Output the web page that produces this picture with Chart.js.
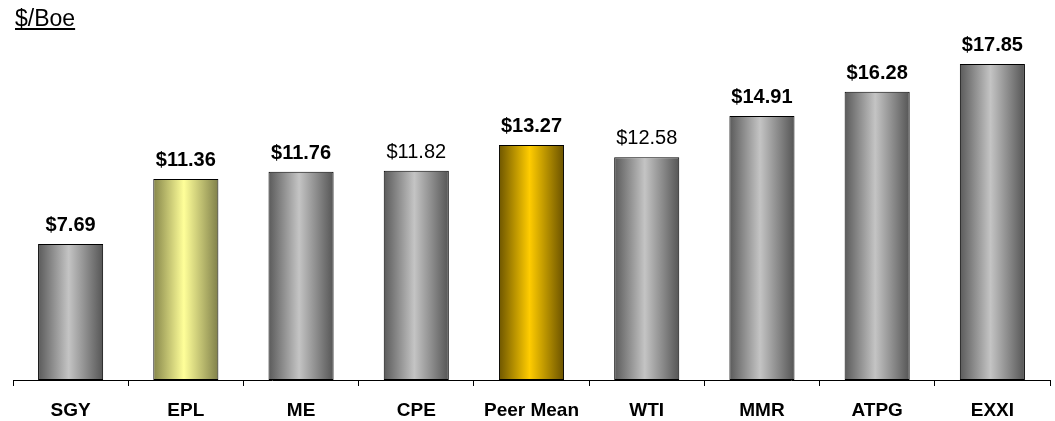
<!DOCTYPE html>
<html>
<head>
<meta charset="utf-8">
<script src="https://cdn.jsdelivr.net/npm/chart.js@4.4.0/dist/chart.umd.min.js"></script>
<style>
  body { margin: 0; background: #fff; }
  #wrap { position: relative; width: 1055px; height: 421px; }
  #unit { position: absolute; left: 15px; top: 5px; font-family: "Liberation Sans", Arial, sans-serif; font-size: 23px; text-decoration: underline; color: #000; }
</style>
</head>
<body>
<div id="wrap">
  <div id="unit">$/Boe</div>
  <canvas id="myChart" width="1055" height="421"></canvas>
</div>
<script>
// chart data
const categories = ["SGY", "EPL", "ME", "CPE", "Peer Mean", "WTI", "MMR", "ATPG", "EXXI"];
const costs = [7.69, 11.36, 11.76, 11.82, 13.27, 12.58, 14.91, 16.28, 17.85];
const boldLabel = [true, true, true, false, true, false, true, true, true];
// bar colour style: gray / pale yellow / gold
const barStyle = ["gray", "yellow", "gray", "gray", "gold", "gray", "gray", "gray", "gray"];

const gradStops = {
  gray: ["#5a5a5a", "#c4c4c4", "#555555"],
  yellow: ["#86864a", "#ffff99", "#80804a"],
  gold: ["#6e5600", "#ffcc00", "#6a5200"],
};
const barPct = 0.565;

// cylinder-like gradient, built from the x scale
function barGradient(context) {
  const chart = context.chart;
  const xs = chart.scales.x;
  const s = gradStops[barStyle[context.dataIndex]] || gradStops.gray;
  if (!xs || context.dataIndex === undefined) return s[1];
  const cx = xs.getPixelForValue(context.dataIndex);
  const w = (xs.width / categories.length) * barPct;
  if (!isFinite(cx) || !isFinite(w) || w <= 0) return s[1];
  const g = chart.ctx.createLinearGradient(cx - w / 2, 0, cx + w / 2, 0);
  g.addColorStop(0, s[0]);
  g.addColorStop(0.47, s[1]);
  g.addColorStop(1, s[2]);
  return g;
}

// value labels above bars
const valueLabels = {
  id: "valueLabels",
  afterDatasetsDraw(chart) {
    const ctx = chart.ctx;
    ctx.save();
    ctx.textAlign = "center";
    ctx.textBaseline = "alphabetic";
    ctx.fillStyle = "#000";
    chart.getDatasetMeta(0).data.forEach((bar, i) => {
      ctx.font = (boldLabel[i] ? "bold " : "") + "20px 'Liberation Sans', Arial, sans-serif";
      ctx.fillText("$" + costs[i].toFixed(2), bar.x, bar.y - 13);
    });
    ctx.restore();
  },
};

new Chart(document.getElementById("myChart"), {
  type: "bar",
  data: {
    labels: categories,
    datasets: [
      {
        data: costs,
        backgroundColor: barGradient,
        borderColor: "#000",
        borderWidth: 1,
        borderSkipped: false,
        barPercentage: barPct,
        categoryPercentage: 1,
      },
    ],
  },
  options: {
    responsive: false,
    animation: false,
    layout: { padding: { left: 13, right: 5, top: 26, bottom: 0 } },
    plugins: { legend: { display: false }, tooltip: { enabled: false } },
    scales: {
      y: { display: false, min: 0, max: 20 },
      x: {
        afterFit(scale) { scale.height = 41; },
        border: { display: true, color: "#000", width: 1 },
        grid: { drawOnChartArea: false, drawTicks: true, tickLength: 6, color: "#000", offset: true },
        ticks: {
          color: "#000",
          padding: 13,
          font: { family: "'Liberation Sans', Arial, sans-serif", size: 19, weight: "bold" },
        },
      },
    },
  },
  plugins: [valueLabels],
});
</script>
</body>
</html>
